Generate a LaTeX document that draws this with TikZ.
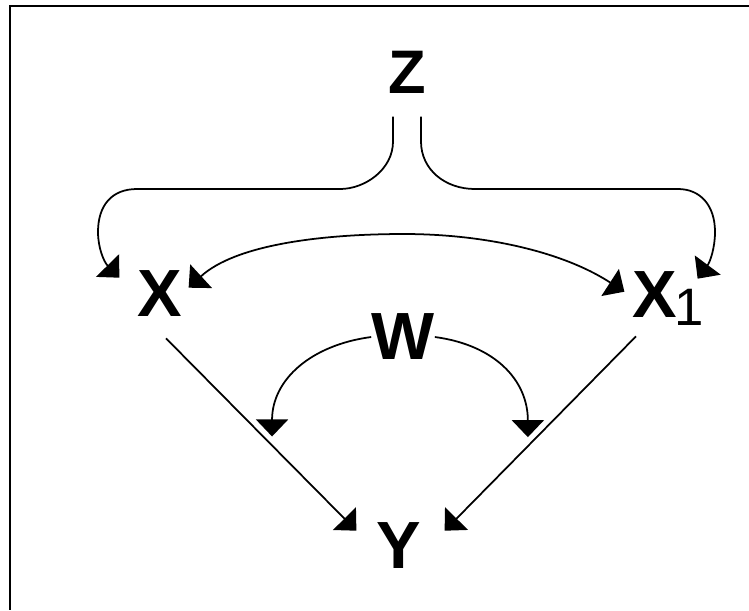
\documentclass[tikz,border=0pt]{standalone}
\usepackage{fontspec}
\setmainfont{Liberation Sans}
\usetikzlibrary{arrows.meta}

\begin{document}
\begin{tikzpicture}[x=0.02cm, y=-0.02cm, >={Triangle[length=0.34cm, width=0.64cm]},
    var/.style={inner sep=0pt, font=\fontsize{38}{40}\selectfont\bfseries},
    link/.style={line width=1pt, ->}]
    \useasboundingbox (0,0) rectangle (749,610);
    \draw[line width=1.2pt] (749,6) -- (10,6) -- (10,610);
    \node[var, font=\fontsize{35}{37}\selectfont\bfseries] (Z) at (407,72) {Z};
    \node[var] (X) at (160,294) {X};
    \node[var] (X1) at (655,295) {X\rlap{\kern-1.5pt\raisebox{-0.16cm}[0pt][0pt]{\fontsize{30}{32}\selectfont\mdseries 1}}};
    \node[var] (W) at (403,337) {W};
    \node[var] (Y) at (399,546) {Y};
    % Z splits to X and X1
    \draw[link] ([shift={(-14,23)}]Z.south) -- ++(0,25) .. controls +(0,28) and (365,189) .. (340,189) -- (137,189)
        .. controls (112,189) and (98,205) .. (98,232) .. controls (98,248) and (104,262) .. ([shift={(-18,7)}]X.north west);
    \draw[link] ([shift={(14,23)}]Z.south) -- ++(0,25) .. controls +(0,28) and (445,189) .. (475,189) -- (678,189)
        .. controls (700,189) and (715,205) .. (715,232) .. controls (715,248) and (710,262) .. ([shift={(20,7)}]X1.north east);
    \draw[link, <->] ([shift={(6,17)}]X.north east) .. controls (235,245) and (320,234) .. (404,234)
        .. controls (480,234) and (560,250) .. ([shift={(-8,20)}]X1.north west);
    % paths into Y
    \draw[link] ([shift={(6,21)}]X.south) -- ([shift={(-20,8)}]Y.north west) coordinate[pos=0.557] (xy);
    \draw[link] ([shift={(-19,18)}]X1.south) -- ([shift={(23,8)}]Y.north east) coordinate[pos=0.565] (xy1);
    % W acts on both paths
    \draw[link] (W.west) .. controls +(-60,8) and +(0,-57) .. ([shift={(0,-9)}]xy);
    \draw[link] (W.east) .. controls +(60,8) and +(0,-57) .. ([shift={(0,-9)}]xy1);
\end{tikzpicture}
\end{document}
